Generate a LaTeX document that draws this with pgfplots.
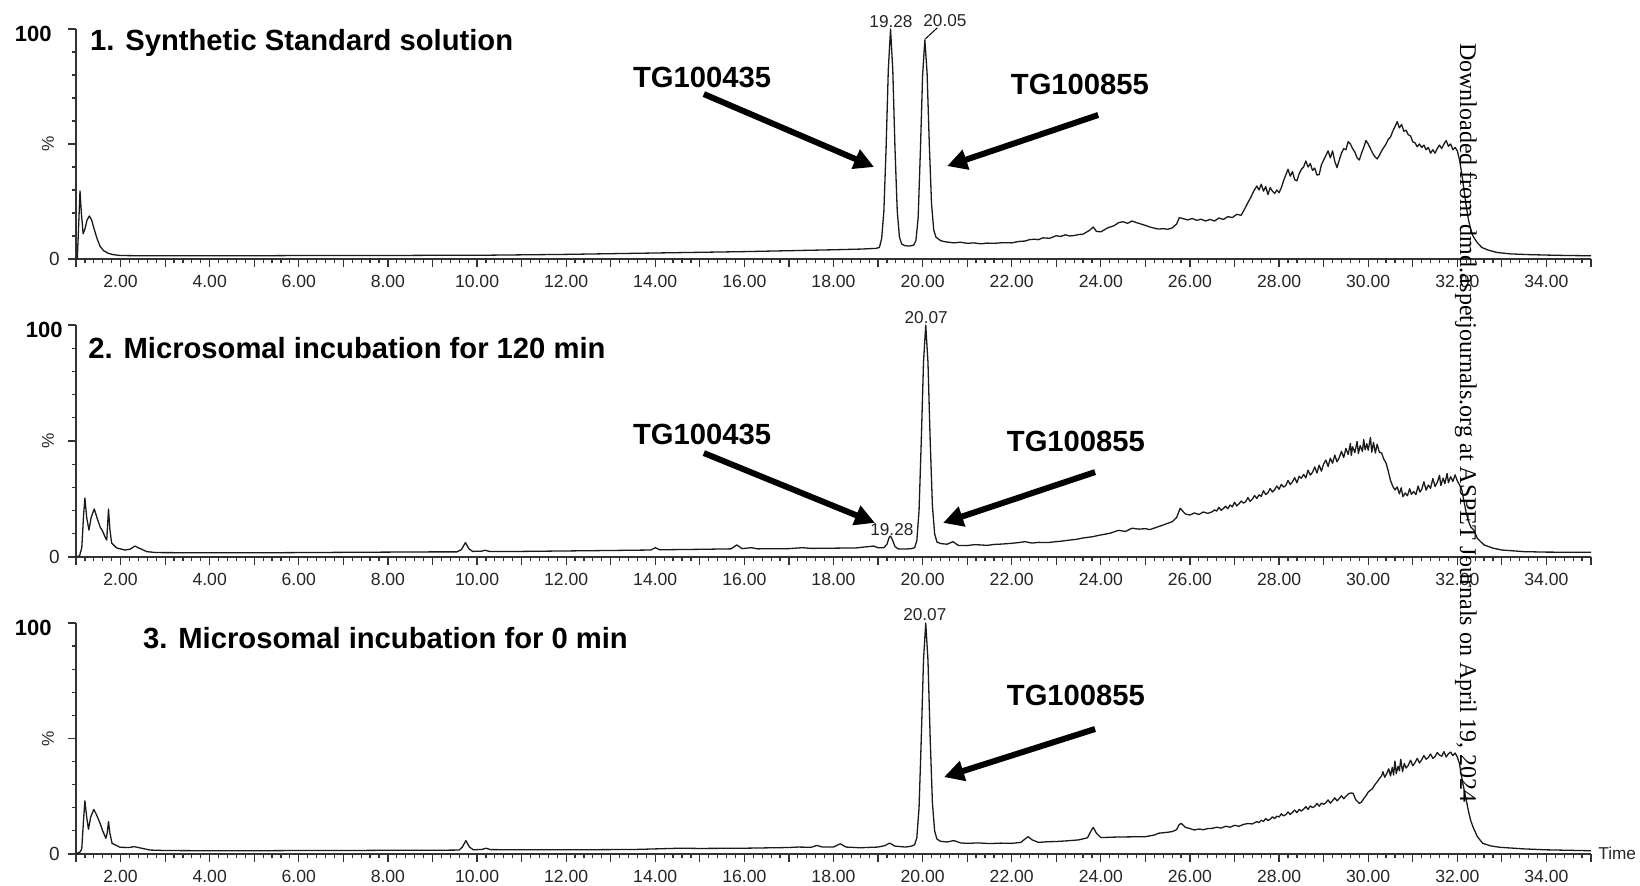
\documentclass[border=0pt]{standalone}
\usepackage{pgfplots}
\pgfplotsset{compat=1.18}
\usetikzlibrary{arrows.meta}
\usepackage{fontspec}
\setmainfont{Liberation Sans}
\newfontfamily\wmfont{Liberation Serif}
\definecolor{trace}{HTML}{1A1A1A}
\definecolor{axcol}{HTML}{333333}
\tikzset{
  lbl/.style={font=\fontsize{8.6}{10}\selectfont, text=black!85, inner sep=0pt},
  big/.style={font=\bfseries\fontsize{14.6}{17}\selectfont, inner sep=0pt},
  arr/.style={line width=3pt, -{Triangle[length=10pt,width=10pt]}, black},
  tr/.style={color=trace, line width=0.65pt, line join=round, mark=none},
}
\pgfplotsset{
  chrom/.style={
    scale only axis, width=757.5pt,
    xmin=1, xmax=35, ymin=0, ymax=100,
    axis x line*=bottom, axis y line*=left,
    axis line style={line width=0.75pt, color=axcol},
    every tick/.style={line width=0.6pt, color=axcol},
    tick align=outside,
    major tick length=3.8pt, minor tick length=2.2pt,
    xtick={2,4,...,34},
    xticklabels={2.00,4.00,6.00,8.00,10.00,12.00,14.00,16.00,18.00,20.00,22.00,24.00,26.00,28.00,30.00,32.00,34.00},
    extra x ticks={1,3,...,35}, extra x tick labels={},
    minor xtick={1.2,1.4,1.6,1.8,2.2,2.4,2.6,2.8,3.2,3.4,3.6,3.8,4.2,4.4,4.6,4.8,5.2,5.4,5.6,5.8,6.2,6.4,6.6,6.8,7.2,7.4,7.6,7.8,8.2,8.4,8.6,8.8,9.2,9.4,9.6,9.8,10.2,10.4,10.6,10.8,11.2,11.4,11.6,11.8,12.2,12.4,12.6,12.8,13.2,13.4,13.6,13.8,14.2,14.4,14.6,14.8,15.2,15.4,15.6,15.8,16.2,16.4,16.6,16.8,17.2,17.4,17.6,17.8,18.2,18.4,18.6,18.8,19.2,19.4,19.6,19.8,20.2,20.4,20.6,20.8,21.2,21.4,21.6,21.8,22.2,22.4,22.6,22.8,23.2,23.4,23.6,23.8,24.2,24.4,24.6,24.8,25.2,25.4,25.6,25.8,26.2,26.4,26.6,26.8,27.2,27.4,27.6,27.8,28.2,28.4,28.6,28.8,29.2,29.4,29.6,29.8,30.2,30.4,30.6,30.8,31.2,31.4,31.6,31.8,32.2,32.4,32.6,32.8,33.2,33.4,33.6,33.8,34.2,34.4,34.6,34.8},
    ytick={0,50,100}, yticklabels={},
    minor ytick={10,20,30,40,60,70,80,90},
    xticklabel style={font=\fontsize{8.8}{10}\selectfont, text=black!85, inner sep=0pt, yshift=-4.2pt},
    clip=false,
  },
}
\begin{document}
\begin{tikzpicture}
\useasboundingbox (0,0) rectangle (820pt,443pt);
% ---------------- Panel 1 ----------------
\begin{axis}[chrom, height=115pt, at={(38pt,313.5pt)}, anchor=south west]
\addplot[tr] coordinates {(1.00,0) (1.03,0.5) (1.06,15) (1.09,29.6) (1.12,20) (1.16,11) (1.20,13) (1.25,17) (1.30,18.7) (1.35,17) (1.40,13.5) (1.47,9) (1.54,5.5) (1.62,3.6) (1.72,2.5) (1.83,1.9) (2.00,1.5) (2.5,1.4) (3,1.4) (4,1.4) (5,1.4) (6,1.5) (7,1.5) (8,1.5) (9,1.6) (10,1.6) (11,1.8) (12,2.0) (13,2.3) (14,2.6) (15,2.9) (16,3.2) (17,3.6) (18,4.0) (18.6,4.3) (18.95,4.6) (19.03,5.0) (19.08,8.8) (19.13,20.6) (19.18,48) (19.23,82.4) (19.28,100) (19.33,82.4) (19.38,48) (19.43,21) (19.48,9.5) (19.53,6.5) (19.6,5.8) (19.7,5.6) (19.8,6) (19.85,8) (19.90,18) (19.95,47) (20.00,80) (20.05,95.2) (20.10,81) (20.15,50) (20.20,24) (20.25,12.5) (20.30,9.5) (20.40,8) (20.5,7.5)
(20.7,7.0) (20.85,7.3) (21.0,6.8) (21.15,7.0) (21.3,6.6) (21.45,6.9) (21.6,6.8) (21.8,7.1) (22.0,7.0) (22.15,7.6) (22.3,7.8) (22.4,8.4) (22.5,8.6) (22.6,8.4) (22.7,9.2) (22.85,9.0) (23.0,10.1) (23.1,9.8) (23.2,10.5) (23.3,10.0) (23.4,10.2) (23.5,10.6) (23.6,10.8) (23.75,12.5) (23.83,13.9) (23.9,12.0) (24.0,11.8) (24.15,13.5) (24.3,14.5) (24.4,15.8) (24.5,16.2) (24.6,15.5) (24.7,16.5) (24.8,15.8) (24.9,15.2) (25.0,14.6) (25.1,13.9) (25.2,13.4) (25.3,13.0) (25.4,13.2) (25.5,12.9) (25.6,13.5) (25.7,15.2) (25.76,18.0) (25.85,17.5) (25.95,17.0) (26.05,17.6) (26.15,16.8) (26.25,17.3) (26.35,16.5) (26.45,17.2) (26.55,16.5) (26.65,17.8) (26.75,17.2) (26.85,18.4) (26.95,18.0) (27.05,19.4) (27.15,19.0) (27.22,21.5) (27.3,24.5) (27.37,27) (27.43,29.5) (27.5,31.7) (27.55,30) (27.6,32.5) (27.65,29.5) (27.7,31.5) (27.75,28) (27.8,31) (27.85,29.5) (27.9,28.5) (27.95,30) (28.0,28.8) (28.05,31) (28.1,34) (28.15,36.5) (28.2,39) (28.25,36) (28.3,38) (28.35,34.5) (28.4,34) (28.45,37) (28.5,39) (28.55,40) (28.6,42.6) (28.65,40) (28.7,41.5) (28.75,38.5) (28.8,39.5) (28.85,36.5) (28.9,36.7) (28.95,41) (29.0,43) (29.05,45) (29.1,47) (29.15,44) (29.2,47) (29.25,42.5) (29.3,39.7) (29.35,43) (29.4,46) (29.45,48) (29.5,47.5) (29.55,51) (29.6,50) (29.65,48) (29.7,46.5) (29.75,44) (29.8,43) (29.85,46) (29.9,48.5) (29.95,51.5) (30.0,50) (30.05,48) (30.1,46) (30.15,44.5) (30.2,43.5) (30.25,45) (30.3,47) (30.35,48.5) (30.4,50) (30.45,52) (30.5,53) (30.55,55.5) (30.6,57.5) (30.65,59.7) (30.7,57) (30.75,58.5) (30.8,55.5) (30.85,56) (30.9,54) (30.95,53.5) (31.0,51) (31.05,50.5) (31.1,48.8) (31.15,50) (31.2,48.5) (31.25,49.5) (31.3,47.5) (31.35,48.5) (31.4,46) (31.45,47.5) (31.5,46) (31.55,48) (31.6,49.5) (31.65,48) (31.7,50) (31.75,51.5) (31.8,49) (31.85,50) (31.9,47.5) (31.95,48.5) (32.0,47) (32.05,43) (32.1,37) (32.15,30) (32.2,23) (32.25,17) (32.3,13) (32.35,10) (32.45,7) (32.55,5) (32.7,3.8) (32.9,2.8) (33.2,2.2) (33.6,1.9) (34.0,1.7) (34.5,1.5) (35.0,1.4)};
\node[big, anchor=west] at (axis cs:1.31,93.9) {1. Synthetic Standard solution};
\node[big] at (axis cs:15.05,79.1) {TG100435};
\node[big] at (axis cs:23.53,76) {TG100855};
\draw[arr] (axis cs:15.09,71.7) -- (axis cs:18.91,40);
\draw[arr] (axis cs:23.94,62.6) -- (axis cs:20.55,40.4);
\node[lbl, anchor=base] at (axis cs:19.29,100.8) {19.28};
\draw[line width=0.5pt] (axis cs:20.05,95.5) -- (axis cs:20.33,100.5);
\node[lbl, anchor=base] at (axis cs:20.5,101) {20.05};
\node[font=\bfseries\fontsize{11}{13}\selectfont, anchor=east, inner sep=0pt] at ([xshift=-12pt]axis cs:1,98) {100};
\node[lbl, font=\fontsize{9.5}{11}\selectfont, anchor=east] at ([xshift=-8pt]axis cs:1,0) {0};
\node[lbl, rotate=90] at ([xshift=-14pt]axis cs:1,50) {\%};
\end{axis}
% ---------------- Panel 2 ----------------
\begin{axis}[chrom, height=116pt, at={(38pt,164.5pt)}, anchor=south west]
\addplot[tr] coordinates {(1.00,0) (1.08,0.5) (1.13,4) (1.17,18) (1.20,25.4) (1.24,17) (1.29,11.6) (1.34,17) (1.41,20.7) (1.47,17) (1.54,13) (1.60,11) (1.65,8.8) (1.69,7.3) (1.71,14) (1.73,20.7) (1.76,12) (1.80,6) (1.91,3.9) (2.10,3.0) (2.22,3.4) (2.32,4.7) (2.42,3.8) (2.59,2.3) (2.80,1.9) (4.0,1.8) (5.0,1.8) (6.0,1.9) (7.0,2.0) (8.0,2.1) (9.0,2.2) (9.55,2.2) (9.65,3.2) (9.74,6.2) (9.82,3.5) (9.9,2.4) (10.1,2.5) (10.18,2.9) (10.28,2.4) (11.0,2.4) (12.0,2.6) (13.0,2.8) (13.9,3.0) (14.0,4.0) (14.1,3.1) (15.0,3.3) (15.7,3.5) (15.83,5.2) (15.95,3.6) (16.15,4.0) (16.3,3.5) (17.0,3.6) (17.3,4.0) (17.5,3.7) (18.5,3.9) (18.9,4.7) (19.0,4.0) (19.13,4) (19.2,5.5) (19.25,8.5) (19.28,9) (19.32,7.5) (19.38,4.5) (19.45,3.5) (19.6,3.4) (19.75,3.6) (19.82,4) (19.87,7) (19.92,20) (19.97,50) (20.02,84) (20.07,100) (20.12,84) (20.17,50) (20.22,22) (20.27,10) (20.32,6.5) (20.40,5.8) (20.55,5.5) (20.68,6.6) (20.8,5.0) (21.0,4.9) (21.15,5.3) (21.3,5.2) (21.45,5.0) (21.6,5.4) (21.8,5.6) (22.0,5.9) (22.15,6.2) (22.3,6.6) (22.45,6.0) (22.6,6.3) (22.8,6.2) (23.0,6.6) (23.15,6.9) (23.3,7.3) (23.45,7.6) (23.6,8.2) (23.8,8.7) (24.0,9.5) (24.2,10.2) (24.4,11.5) (24.55,11.0) (24.7,12.4) (24.85,12.0) (25.0,12.2) (25.1,11.8) (25.25,12.8) (25.4,13.8) (25.5,14.5) (25.6,15.2) (25.7,17) (25.78,21) (25.85,19.5) (25.9,18.5) (26.0,18.1) (26.1,19.0) (26.2,18.3) (26.3,19.4) (26.4,18.8) (26.5,19.5)
(26.55,20.3) (26.6,19.8) (26.65,21.4) (26.7,20.1) (26.75,20.9) (26.8,21.9) (26.85,20.8) (26.9,22.4) (26.95,21.6) (27.0,23.6) (27.05,22.0) (27.1,22.9) (27.15,24.1) (27.2,23.2) (27.25,23.8) (27.3,25.6) (27.35,24.0) (27.4,24.9) (27.45,26.5) (27.5,25.2) (27.55,26.8) (27.6,26.1) (27.65,28.6) (27.7,26.9) (27.75,27.7) (27.8,29.5) (27.85,28.0) (27.9,29.0) (27.95,30.6) (28.0,29.2) (28.05,31.3) (28.1,30.1) (28.15,30.8) (28.2,33.0) (28.25,31.2) (28.3,32.4) (28.35,34.2) (28.4,32.0) (28.45,34.8) (28.5,33.9) (28.55,35.6) (28.6,34.1) (28.65,37.4) (28.7,35.3) (28.75,36.5) (28.8,38.8) (28.85,36.2) (28.9,39.6) (28.95,37.0) (29.0,40.1) (29.05,41.8) (29.1,39.0) (29.15,42.6) (29.2,40.4) (29.25,43.9) (29.3,41.0) (29.35,42.8) (29.4,45.6) (29.45,42.9) (29.5,46.8) (29.55,44.2) (29.6,48.9) (29.62,43.8) (29.65,47.5) (29.7,45.0) (29.75,49.8) (29.78,44.6) (29.82,48.0) (29.87,45.5) (29.9,50.6) (29.93,46.2) (29.97,48.8) (30.0,46.0) (30.05,51.5) (30.08,45.2) (30.12,49.4) (30.16,44.8) (30.2,48.6) (30.25,45.2) (30.3,44.8) (30.35,42.2) (30.4,40.5) (30.45,37) (30.5,33) (30.55,30.5) (30.6,28.9) (30.65,30.2) (30.7,27.2) (30.74,29.8) (30.78,26.0) (30.83,27.6) (30.88,26.4) (30.93,29.4) (30.97,27.0) (31.02,28.2) (31.07,26.9) (31.12,30.6) (31.16,28.0) (31.2,29.1) (31.25,32.4) (31.3,28.8) (31.35,31.0) (31.4,29.6) (31.45,33.8) (31.5,30.4) (31.55,32.2) (31.6,35.2) (31.63,30.8) (31.68,34.0) (31.72,31.6) (31.77,36.0) (31.8,32.0) (31.85,34.6) (31.9,32.6) (31.95,35.4) (32.0,32.8) (32.05,31) (32.1,28.9) (32.15,24) (32.2,19) (32.25,15.5) (32.3,13) (32.37,11.6) (32.45,8) (32.6,5.2) (32.8,3.8) (33.0,3.0) (33.5,2.3) (34.0,2.1) (35.0,2.0)};
\node[big, anchor=west] at (axis cs:1.27,90.1) {2. Microsomal incubation for 120 min};
\node[big] at (axis cs:15.05,52.6) {TG100435};
\node[big] at (axis cs:23.44,50) {TG100855};
\draw[arr] (axis cs:15.09,44.8) -- (axis cs:18.93,14.7);
\draw[arr] (axis cs:23.87,36.6) -- (axis cs:20.46,14.7);
\node[lbl, anchor=south] at (axis cs:19.31,9) {19.28};
\node[lbl, anchor=base] at (axis cs:20.08,100.8) {20.07};
\node[font=\bfseries\fontsize{11}{13}\selectfont, anchor=east, inner sep=0pt] at ([xshift=-6.5pt]axis cs:1,98) {100};
\node[lbl, font=\fontsize{9.5}{11}\selectfont, anchor=east] at ([xshift=-8pt]axis cs:1,0) {0};
\node[lbl, rotate=90] at ([xshift=-14pt]axis cs:1,50) {\%};
\end{axis}
% ---------------- Panel 3 ----------------
\begin{axis}[chrom, height=115.5pt, at={(38pt,16pt)}, anchor=south west]
\addplot[tr] coordinates {(1.00,0) (1.06,0.6) (1.10,1.0) (1.13,2.4) (1.17,15) (1.20,23) (1.24,16) (1.28,10.7) (1.33,16) (1.40,19.3) (1.46,17) (1.54,13.3) (1.60,10) (1.67,6.8) (1.70,9) (1.73,14) (1.76,9) (1.81,4.6) (1.99,2.9) (2.2,2.8) (2.3,3.2) (2.4,2.8) (2.66,1.7) (3.0,1.5) (4.0,1.4) (5,1.4) (6,1.5) (7,1.5) (8,1.6) (9,1.6) (9.6,1.7) (9.67,3.0) (9.75,5.8) (9.83,3.0) (9.92,1.8) (10.12,2.0) (10.2,2.5) (10.3,1.9) (11,1.8) (12,1.8) (13,1.9) (13.43,1.9) (14,2.2) (14.55,2.5) (15,2.4) (16,2.5) (17.0,2.8) (17.2,3.0) (17.5,2.9) (17.63,3.7) (17.75,3.0) (18.0,3.0) (18.15,4.4) (18.28,3.0) (18.6,2.7) (19.0,3.0) (19.15,3.6) (19.26,4.7) (19.38,3.4) (19.62,3.0) (19.75,3.4) (19.82,4) (19.87,7) (19.92,20) (19.97,50) (20.02,84) (20.07,100) (20.12,84) (20.17,50) (20.22,22) (20.27,10) (20.32,6.5) (20.40,5.5) (20.55,5.2) (20.7,5.8) (20.85,4.8) (21.0,4.6) (21.25,4.8) (21.5,4.5) (21.75,4.7) (22.0,4.6) (22.2,5.0) (22.3,6.5) (22.37,7.5) (22.45,6.2) (22.6,5.0) (22.8,5.3) (23.0,5.4) (23.25,5.7) (23.5,6.1) (23.7,7.0) (23.78,10) (23.83,11.5) (23.9,9) (24.0,7.1) (24.3,7.3) (24.6,7.4) (25.0,7.5) (25.2,8.2) (25.3,9.0) (25.5,9.4) (25.6,9.7) (25.7,10.5) (25.75,12.5) (25.8,13.3) (25.9,11.5) (26.0,11.0) (26.1,10.4) (26.2,10.8) (26.3,10.5) (26.4,11.0) (26.5,11.1) (26.6,11.6) (26.7,11.2) (26.8,12.0) (26.9,11.6) (27.0,12.4) (27.1,12.0) (27.2,12.8) (27.3,13.2) (27.4,13.0) (27.5,14.0)
(27.55,13.6) (27.6,14.6) (27.65,14.1) (27.7,15.3) (27.75,14.5) (27.8,15.0) (27.85,16.1) (27.9,15.3) (27.95,16.4) (28.0,16.0) (28.05,17.4) (28.1,16.5) (28.15,17.0) (28.2,18.2) (28.25,17.1) (28.3,18.0) (28.35,19.0) (28.4,17.9) (28.45,19.3) (28.5,18.6) (28.55,19.4) (28.6,20.5) (28.65,19.3) (28.7,20.8) (28.75,20.1) (28.8,20.6) (28.85,21.9) (28.9,20.7) (28.95,22.0) (29.0,21.5) (29.05,22.2) (29.1,23.4) (29.15,22.0) (29.2,23.1) (29.25,24.3) (29.3,23.0) (29.35,24.0) (29.4,25.2) (29.45,23.9) (29.5,25.0) (29.55,25.9) (29.6,26.4) (29.66,26.3) (29.72,23.5) (29.8,21.9) (29.85,22.5) (29.9,24.0) (29.95,25.2) (30.0,26.8) (30.05,27.6) (30.1,28.4) (30.15,30.0) (30.2,31.2) (30.25,32.6) (30.3,33.8) (30.33,35.6) (30.37,33.2) (30.42,35.0) (30.46,36.9) (30.5,33.8) (30.54,37.5) (30.57,34.2) (30.6,40.2) (30.63,34.8) (30.67,38.0) (30.7,36.0) (30.73,41.0) (30.77,35.6) (30.81,39.2) (30.85,37.2) (30.9,38.4) (30.95,40.6) (31.0,38.2) (31.05,39.5) (31.1,41.4) (31.15,39.4) (31.2,40.8) (31.25,42.6) (31.3,41.0) (31.35,41.8) (31.4,43.3) (31.45,41.4) (31.5,42.2) (31.55,43.9) (31.6,42.8) (31.65,42.3) (31.7,44.3) (31.75,42.0) (31.8,43.4) (31.85,44.1) (31.9,42.6) (31.95,43.7) (32.0,42.0) (32.05,39) (32.1,33) (32.15,28) (32.2,23.4) (32.25,18.5) (32.3,14.5) (32.35,11.8) (32.45,7.5) (32.57,4.6) (32.75,3.5) (32.95,2.9) (33.5,2.2) (34.0,1.8) (35.0,1.4)};
\node[big, anchor=west] at (axis cs:2.5,93.5) {3. Microsomal incubation for 0 min};
\node[big] at (axis cs:23.44,68.8) {TG100855};
\draw[arr] (axis cs:23.87,54.1) -- (axis cs:20.48,33.3);
\node[lbl, anchor=base] at (axis cs:20.05,101) {20.07};
\node[font=\bfseries\fontsize{11}{13}\selectfont, anchor=east, inner sep=0pt] at ([xshift=-12pt]axis cs:1,98) {100};
\node[lbl, font=\fontsize{9.5}{11}\selectfont, anchor=east] at ([xshift=-8pt]axis cs:1,0) {0};
\node[lbl, rotate=90] at ([xshift=-14pt]axis cs:1,50) {\%};
\node[font=\fontsize{8.6}{10}\selectfont, text=black!85, anchor=west, inner sep=0pt] at ([xshift=3.5pt, yshift=0.5pt]axis cs:35,0) {Time};
\end{axis}
% watermark
\node[font=\wmfont\fontsize{12}{14}\selectfont, rotate=-90, inner sep=0pt] at (733pt,231.5pt) {Downloaded from dmd.aspetjournals.org at ASPET Journals on April 19, 2024};
\end{tikzpicture}
\end{document}
